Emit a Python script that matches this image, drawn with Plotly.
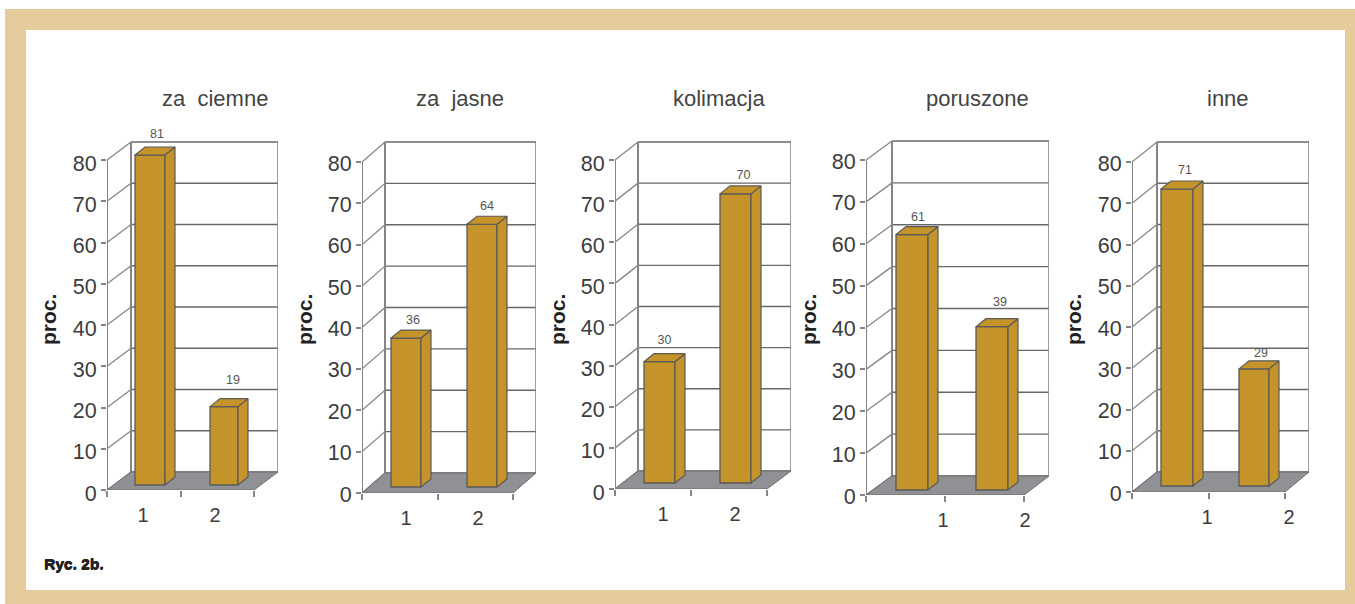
import plotly.graph_objects as go

W, H = 1355, 604

# ---- data ----
panel_titles = ["za\u00a0\u00a0ciemne", "za\u00a0\u00a0jasne", "kolimacja", "poruszone", "inne"]
categories = ["1", "2"]
printed_labels = [[81, 19], [36, 64], [30, 70], [61, 39], [71, 29]]   # numbers printed over the bars
bar_heights = [[80, 19], [36, 63.5], [29.5, 70.3], [61, 39], [72, 28.4]]  # heights
y_ticks = [0, 10, 20, 30, 40, 50, 60, 70, 80]
y_title = "proc."
footnote = "Ryc. 2b."

# ---- layout of each panel, in page pixels ----
panels = [
    dict(x0=107, x1=254, xb=131, xr=278, y0=490, y80=160, yt=142, bot=485, bars=[(135, 165), (210, 238)],
         cat=(143, 215), lift=(12, 18), dxl=(7, 9), title_x=215, proc_x=48, lab_shift=3),
    dict(x0=362, x1=513, xb=385, xr=536, y0=493, y80=162, yt=142, bot=487, bars=[(391, 421), (467, 497)],
         cat=(406, 478), lift=(9, 9), dxl=(7, 5), title_x=460, proc_x=304, lab_shift=1),
    dict(x0=615, x1=767, xb=638, xr=791, y0=489, y80=160, yt=142, bot=483, bars=[(644, 675), (720, 751)],
         cat=(663, 735), lift=(13, 10), dxl=(5, 8), title_x=719, proc_x=557, lab_shift=3),
    dict(x0=866, x1=1024, xb=892, xr=1049, y0=495, y80=160, yt=141, bot=490, bars=[(896, 928), (976, 1008)],
         cat=(943, 1025), lift=(9, 16), dxl=(6, 8), title_x=977, proc_x=808, lab_shift=1),
    dict(x0=1132, x1=1285, xb=1157, xr=1309, y0=492, y80=162, yt=142, bot=486, bars=[(1161, 1193), (1239, 1269)],
         cat=(1207, 1289), lift=(10, 7), dxl=(8, 7), title_x=1228, proc_x=1073, lab_shift=1),
]

BAR = "#C4932A"
EDGE = "#5A5A5A"
FLOOR = "#8F9194"
WALL = "#858585"
GRID = "#686868"
TAN = "#E6CB9C"
SANS = "Liberation Sans"
TEXT = "#3C3C3C"
DEPTH_X, DEPTH_Y = 10, 8
HEADROOM = 30  # px of free axis above the back wall, so the printed values stay inside the range

fig = go.Figure()
shapes = [
    dict(type="rect", xref="paper", yref="paper", x0=5 / W, x1=1, y0=0, y1=1 - 9 / H,
         fillcolor=TAN, line_width=0, layer="below"),
    dict(type="rect", xref="paper", yref="paper", x0=26 / W, x1=1345 / W, y0=1 - 590 / H, y1=1 - 30 / H,
         fillcolor="white", line_width=0, layer="below"),
]
annotations = []
layout_axes = {}

for i, p in enumerate(panels):
    n = i + 1
    xa, ya = f"x{n}", f"y{n}"
    sx = (p["x1"] - p["x0"]) / 2            # px per x unit
    sy = (p["y0"] - p["y80"]) / 80          # px per y unit
    xfrom = lambda px, s=sx, o=p["x0"]: (px - o) / s
    back = xfrom(p["xb"])
    right = xfrom(p["xr"])
    ylift = (p["y80"] - p["yt"]) / sy
    base = (p["y0"] - p["bot"]) / sy
    dx, dy = DEPTH_X / sx, DEPTH_Y / sy

    def line(x0, y0, x1, y1, color=GRID, width=1.3):
        shapes.append(dict(type="line", xref=xa, yref=ya, x0=x0, y0=y0, x1=x1, y1=y1,
                           line=dict(color=color, width=width), layer="below"))

    # back wall
    for v in y_ticks:
        line(back, v + ylift, right, v + ylift)
        line(0, v, back, v + ylift, color=WALL)
    line(back, ylift, back, 80 + ylift, color=WALL, width=2)
    line(right, ylift, right, 80 + ylift, color=WALL, width=1.6)
    line(0, 0, 0, 80, color=WALL, width=2)
    # floor
    shapes.append(dict(type="path", xref=xa, yref=ya,
                       path=f"M 0 0 L 2 0 L {right} {ylift} L {back} {ylift} Z",
                       fillcolor=FLOOR, line=dict(color="#6E6E6E", width=1), layer="below"))

    heights = bar_heights[i]
    lefts = [xfrom(b[0]) for b in p["bars"]]
    rights = [xfrom(b[1]) for b in p["bars"]]
    centers = [(a + b) / 2 for a, b in zip(lefts, rights)]
    widths = [b - a for a, b in zip(lefts, rights)]

    fig.add_trace(go.Bar(x=centers, y=heights, base=[base, base], width=widths, xaxis=xa, yaxis=ya,
                         marker=dict(color=BAR, line=dict(color=EDGE, width=1.3)),
                         cliponaxis=False, showlegend=False, hoverinfo="skip"))
    for j, h in enumerate(heights):
        top = base + h
        # side face
        fig.add_trace(go.Scatter(
            x=[rights[j], rights[j] + dx, rights[j] + dx, rights[j], rights[j]],
            y=[base, base + dy, top + dy, top, base],
            mode="lines", fill="toself", fillcolor=BAR, line=dict(color=EDGE, width=1.2),
            xaxis=xa, yaxis=ya, showlegend=False, hoverinfo="skip", cliponaxis=False))
        # top face
        fig.add_trace(go.Scatter(
            x=[lefts[j], rights[j], rights[j] + dx, lefts[j] + dx, lefts[j]],
            y=[top, top, top + dy, top + dy, top],
            mode="lines", fill="toself", fillcolor=BAR, line=dict(color=EDGE, width=1.2),
            xaxis=xa, yaxis=ya, showlegend=False, hoverinfo="skip", cliponaxis=False))
        # printed value
        fig.add_trace(go.Scatter(
            x=[centers[j] + p["dxl"][j] / sx], y=[top + dy + p["lift"][j] / sy],
            text=[str(printed_labels[i][j])], mode="text", textposition="middle center",
            textfont=dict(family=SANS, size=12.5, color="#555555"),
            xaxis=xa, yaxis=ya, showlegend=False, hoverinfo="skip", cliponaxis=False))

    layout_axes[f"xaxis{n}"] = dict(
        domain=[p["x0"] / W, p["xr"] / W], range=[0, right], anchor=ya, automargin=False,
        showgrid=False, zeroline=False, showline=False,
        tickmode="array", tickvals=[xfrom(c) for c in p["cat"]], ticktext=categories,
        ticks="", ticklabelstandoff=11, tickfont=dict(family=SANS, size=20, color=TEXT),
        minor=dict(tickmode="array", tickvals=[0, 1, 2], ticks="outside", ticklen=6,
                   tickcolor=WALL, tickwidth=1.6, showgrid=False),
        fixedrange=True)
    layout_axes[f"yaxis{n}"] = dict(
        domain=[1 - p["y0"] / H, 1 - (p["yt"] - HEADROOM) / H],
        range=[0, 80 + ylift + HEADROOM / sy], anchor=xa, automargin=False,
        showgrid=False, zeroline=False, showline=False,
        tickmode="array", tickvals=y_ticks, ticktext=[str(v) for v in y_ticks],
        ticks="outside", ticklen=5, tickcolor=WALL, tickwidth=1.6,
        ticklabelshift=p["lab_shift"], tickfont=dict(family=SANS, size=21.5, color=TEXT),
        fixedrange=True)

    annotations.append(dict(text=panel_titles[i], xref="paper", yref="paper",
                            x=p["title_x"] / W, y=1 - 98 / H, showarrow=False,
                            xanchor="center", yanchor="middle",
                            font=dict(family=SANS, size=22, color="#444444")))
    annotations.append(dict(text=f"<b>{y_title}</b>", xref="paper", yref="paper",
                            x=p["proc_x"] / W, y=1 - 320 / H, showarrow=False, textangle=-90,
                            xanchor="center", yanchor="middle",
                            font=dict(family=SANS, size=21, color="#222222")))

annotations.append(dict(text=f"<b>{footnote}</b>", xref="paper", yref="paper",
                        x=42 / W, y=1 - 563 / H, showarrow=False, xanchor="left", yanchor="middle",
                        font=dict(family=SANS, size=15.5, color="#222222", weight=900,
                                  shadow="0.5px 0 0 #222222, 0 0.5px 0 #222222")))

fig.update_layout(width=W, height=H, autosize=False,
                  margin=dict(l=0, r=0, t=0, b=0, pad=0, autoexpand=False),
                  paper_bgcolor="white", plot_bgcolor="rgba(0,0,0,0)", showlegend=False,
                  barmode="overlay", shapes=shapes, annotations=annotations, **layout_axes)

fig.write_html("out.html", config=dict(displayModeBar=False, responsive=False),
               post_script="document.body.style.margin='0';document.documentElement.style.overflow='hidden';")
